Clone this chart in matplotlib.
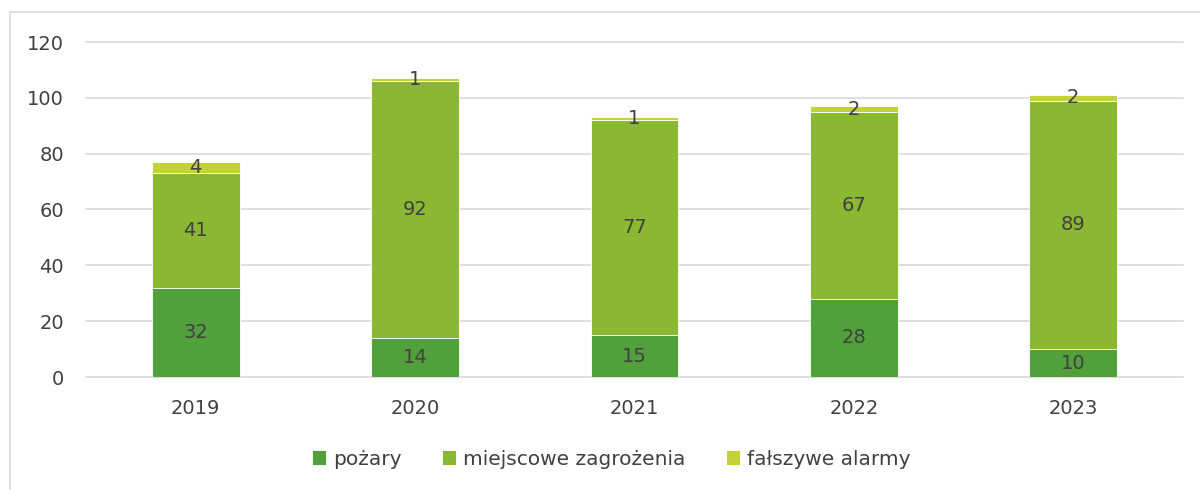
import matplotlib
matplotlib.use('Agg')
import matplotlib.pyplot as plt
from matplotlib.patches import Rectangle
import numpy as np

# dane z wykresu
lata = ['2019', '2020', '2021', '2022', '2023']
pozary = [32, 14, 15, 28, 10]
miejscowe = [41, 92, 77, 67, 89]
falszywe = [4, 1, 1, 2, 2]

serie = ['pożary', 'miejscowe zagrożenia', 'fałszywe alarmy']
kolory = ['#52a03c', '#8bb833', '#c3d13a']

plt.rcParams['font.family'] = ['DejaVu Sans']
tekst = '#404040'

fig = plt.figure(figsize=(12, 4.9), dpi=100)
ax = fig.add_axes([86 / 1200, 1 - 377 / 490, (1183 - 86) / 1200, (377 - 42) / 490])

# ramka wokol wykresu
fig.patches.append(Rectangle((10 / 1200, -0.1), 1.2, 1 - 12 / 490 + 0.1,
                             transform=fig.transFigure, fill=False,
                             edgecolor='#d9d9d9', linewidth=1.2))

x = np.arange(len(lata))
szer = 0.4
dol = np.zeros(len(lata))
for nazwa, wart, kol in zip(serie, [pozary, miejscowe, falszywe], kolory):
    bars = ax.bar(x, wart, szer, bottom=dol, color=kol, label=nazwa,
                  edgecolor='white', linewidth=0.6, zorder=3)
    for xi, b, v in zip(x, dol, wart):
        ax.text(xi, b + v / 2, str(v), ha='center', va='center',
                fontsize=14, color=tekst, zorder=4)
    dol = dol + np.array(wart)

ax.set_xlim(-0.5, 4.5)
ax.set_ylim(0, 120)
ax.set_yticks(range(0, 121, 20))
ax.set_xticks(x)
ax.set_xticklabels(lata)
ax.grid(axis='y', color='#d9d9d9', linewidth=1.2, zorder=0)
for gl in ax.get_ygridlines():
    gl.set_clip_on(False)
for s in ax.spines.values():
    s.set_visible(False)
ax.tick_params(length=0, labelsize=14, colors=tekst)
ax.tick_params(axis='x', pad=16)
ax.tick_params(axis='y', pad=16)

ax.legend(loc='center', bbox_to_anchor=(0.479, -0.245), ncol=3, frameon=False,
          fontsize=14.5, labelcolor=tekst, handlelength=0.7, handleheight=0.7,
          handletextpad=0.35, columnspacing=2.0)

fig.savefig('out.png', dpi=100)
